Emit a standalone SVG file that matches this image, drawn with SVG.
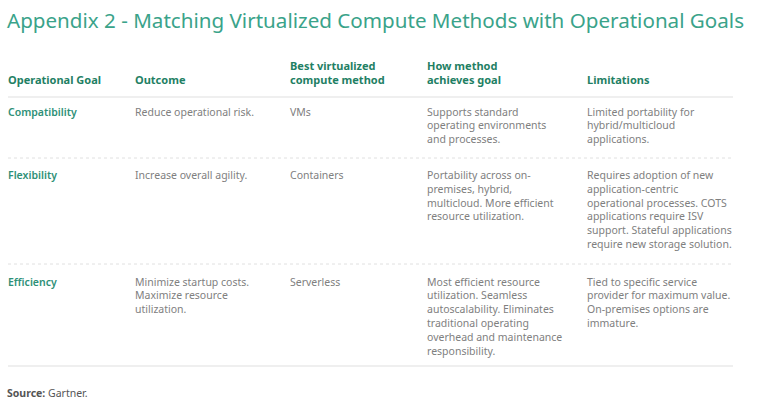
<svg xmlns="http://www.w3.org/2000/svg" width="768" height="411" viewBox="0 0 768 411">
<style>
.title{font-family:"Noto Sans","Open Sans",sans-serif;font-size:20.6px;fill:#3aa38a}
.hd{font-family:"Noto Sans","Open Sans",sans-serif;font-size:11px;font-weight:bold;fill:#1f8064}
.goal{font-family:"Noto Sans","Open Sans",sans-serif;font-size:10.5px;font-weight:600;fill:#2e9077}
.body{font-family:"Noto Sans","Open Sans",sans-serif;font-size:10.5px;fill:#808080}
.src{font-family:"Noto Sans","Open Sans",sans-serif;font-size:10.5px;fill:#555}
.solid{stroke:#e0e0e0;stroke-width:1.2}
.dash{stroke:#e0e0e0;stroke-width:1;stroke-dasharray:3 3}
</style>
<rect width="768" height="411" fill="#fff"/>
<text class="title" x="7" y="28">Appendix 2 - Matching Virtualized Compute Methods with Operational Goals</text>
<g id="header">
<text class="hd" x="8" y="84">Operational Goal</text>
<text class="hd" x="135" y="84">Outcome</text>
<text class="hd" x="290" y="70">Best virtualized</text>
<text class="hd" x="290" y="84">compute method</text>
<text class="hd" x="427" y="70">How method</text>
<text class="hd" x="427" y="84">achieves goal</text>
<text class="hd" x="587" y="84">Limitations</text>
</g>
<g id="lines">
<line class="solid" x1="8" y1="97" x2="733" y2="97"/>
<line class="dash" x1="8" y1="158" x2="733" y2="158"/>
<line class="dash" x1="8" y1="264" x2="733" y2="264"/>
<line class="solid" x1="8" y1="366" x2="733" y2="366"/>
</g>
<g id="row-compatibility">
<text class="goal" x="8" y="115.5">Compatibility</text>
<text class="body" x="135" y="115.5">Reduce operational risk.</text>
<text class="body" x="290" y="115.5">VMs</text>
<text class="body" x="427" y="115.5"><tspan x="427">Supports standard</tspan><tspan x="427" dy="13.8">operating environments</tspan><tspan x="427" dy="13.8">and processes.</tspan></text>
<text class="body" x="587" y="115.5"><tspan x="587">Limited portability for</tspan><tspan x="587" dy="13.8">hybrid/multicloud</tspan><tspan x="587" dy="13.8">applications.</tspan></text>
</g>
<g id="row-flexibility">
<text class="goal" x="8" y="179">Flexibility</text>
<text class="body" x="135" y="179">Increase overall agility.</text>
<text class="body" x="290" y="179">Containers</text>
<text class="body" x="427" y="179"><tspan x="427">Portability across on-</tspan><tspan x="427" dy="13.8">premises, hybrid,</tspan><tspan x="427" dy="13.8">multicloud. More efficient</tspan><tspan x="427" dy="13.8">resource utilization.</tspan></text>
<text class="body" x="587" y="179"><tspan x="587">Requires adoption of new</tspan><tspan x="587" dy="13.8">application-centric</tspan><tspan x="587" dy="13.8">operational processes. COTS</tspan><tspan x="587" dy="13.8">applications require ISV</tspan><tspan x="587" dy="13.8">support. Stateful applications</tspan><tspan x="587" dy="13.8">require new storage solution.</tspan></text>
</g>
<g id="row-efficiency">
<text class="goal" x="8" y="285.5">Efficiency</text>
<text class="body" x="135" y="285.5"><tspan x="135">Minimize startup costs.</tspan><tspan x="135" dy="13.8">Maximize resource</tspan><tspan x="135" dy="13.8">utilization.</tspan></text>
<text class="body" x="290" y="285.5">Serverless</text>
<text class="body" x="427" y="285.5"><tspan x="427">Most efficient resource</tspan><tspan x="427" dy="13.8">utilization. Seamless</tspan><tspan x="427" dy="13.8">autoscalability. Eliminates</tspan><tspan x="427" dy="13.8">traditional operating</tspan><tspan x="427" dy="13.8">overhead and maintenance</tspan><tspan x="427" dy="13.8">responsibility.</tspan></text>
<text class="body" x="587" y="285.5"><tspan x="587">Tied to specific service</tspan><tspan x="587" dy="13.8">provider for maximum value.</tspan><tspan x="587" dy="13.8">On-premises options are</tspan><tspan x="587" dy="13.8">immature.</tspan></text>
</g>
<text class="src" x="7" y="397"><tspan font-weight="bold">Source:</tspan> Gartner.</text>
</svg>
